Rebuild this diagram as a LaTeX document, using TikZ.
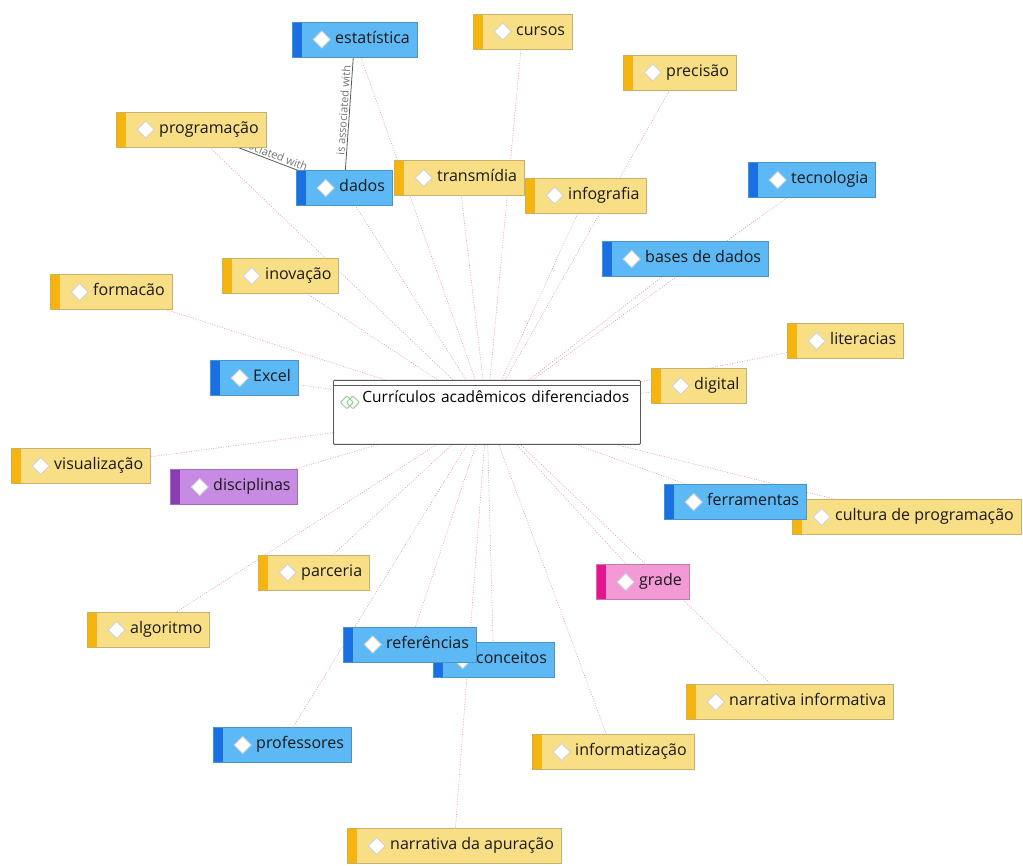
\documentclass[tikz,border=0pt]{standalone}
\usepackage{fontspec}
\setmainfont{Open Sans}
\usetikzlibrary{positioning}
\pgfdeclarelayer{background}
\pgfsetlayers{background,main}

\definecolor{topicyellow}{HTML}{F8DE84}
\definecolor{stripeorange}{HTML}{F6B40E}
\definecolor{topicblue}{HTML}{5CB9F6}
\definecolor{stripeblue}{HTML}{1A6FE3}
\definecolor{topicpurple}{HTML}{C88BE3}
\definecolor{stripepurple}{HTML}{8B3EB0}
\definecolor{topicpink}{HTML}{F39AD6}
\definecolor{stripepink}{HTML}{E3168E}
\definecolor{linkred}{HTML}{E99AA4}

\begin{document}
\begin{tikzpicture}[x=1pt,y=-1pt,
    every topic/.style={rectangle,anchor=west,minimum height=35pt,inner ysep=0pt,
      inner xsep=7pt,text height=11pt,text depth=3.5pt,text=black!90,
      font=\fontsize{16}{18}\selectfont,execute at begin node=\hspace*{36pt}},
    topic/.style 2 args={every topic,fill=#1,draw=#1!80!black,line width=0.4pt,
      path picture={
        \fill[#2] (path picture bounding box.north west) rectangle
          ([xshift=10pt]path picture bounding box.south west);
        \filldraw[fill=white,draw=gray!35,line width=0.8pt]
          ([xshift=21pt]path picture bounding box.west) -- ++(8.5pt,-8.5pt)
          -- ++(8.5pt,8.5pt) -- ++(-8.5pt,8.5pt) -- cycle;}},
    yellow/.style={topic={topicyellow}{stripeorange}},
    blue/.style={topic={topicblue}{stripeblue}},
    purple/.style={topic={topicpurple}{stripepurple}},
    pink/.style={topic={topicpink}{stripepink}},
    central/.style={rectangle,fill=white,draw=gray!70!black,line width=0.8pt,rounded corners=1pt,
      anchor=north west,text width=285pt,inner xsep=11pt,inner ysep=6pt,align=left,
      text height=16pt,text depth=36pt,font=\fontsize{15.5}{17}\selectfont,
      path picture={
        \draw[gray!70!black,line width=0.8pt] ([yshift=-5pt]path picture bounding box.north west)
          -- ([yshift=-5pt]path picture bounding box.north east);
        \foreach \dx in {7,13}
          \draw[green!35!gray!60,line width=1pt]
            ([xshift=\dx pt,yshift=-22pt]path picture bounding box.north west) -- ++(6.5pt,-6.5pt)
            -- ++(6.5pt,6.5pt) -- ++(-6.5pt,6.5pt) -- cycle;}},
    link/.style={draw=linkred,line width=0.6pt,dash pattern=on 1pt off 1.5pt},
    assoc/.style={draw=black!65,line width=0.8pt},
    assoc label/.style={sloped,above,inner sep=1.5pt,text=black!55,font=\fontsize{11}{13}\selectfont}]

  \useasboundingbox (0,0) rectangle (1023,866);

  % topics
  \node[blue] (stat) at (292,39.5) {estatística};
  \node[yellow] (cursos) at (473,31.5) {cursos};
  \node[yellow] (precisao) at (623,72.5) {precisão};
  \node[yellow] (prog) at (116,129.5) {programação};
  \node[blue] (dados) at (296,188) {dados};
  \node[yellow] (transm) at (394,178) {transmídia};
  \node[yellow] (info) at (525,195.5) {infografia};
  \node[blue] (tecno) at (748,180) {tecnologia};
  \node[blue] (bases) at (602,259) {bases de dados};
  \node[yellow] (inov) at (222,276) {inovação};
  \node[yellow] (formac) at (50,292) {formacão};
  \node[yellow] (liter) at (787,341) {literacias};
  \node[blue] (excel) at (210,378) {Excel};
  \node[yellow] (digital) at (651,386) {digital};
  \node[central] (curric) at (333,380) {\hspace*{18pt}Currículos acadêmicos diferenciados};
  \node[yellow] (visual) at (11,466) {visualização};
  \node[purple] (discip) at (170,487) {disciplinas};
  \node[yellow] (cultura) at (792,517) {cultura de programação};
  \node[blue] (ferram) at (664,502) {ferramentas};
  \node[yellow] (parc) at (258,572.5) {parceria};
  \node[pink] (grade) at (596,582) {grade};
  \node[yellow] (algo) at (87,630) {algoritmo};
  \node[blue] (conc) at (433,660) {conceitos};
  \node[blue] (refer) at (343,644.5) {referências};
  \node[yellow] (narinf) at (686,702) {narrativa informativa};
  \node[blue] (prof) at (213,745) {professores};
  \node[yellow] (informat) at (532,752) {informatização};
  \node[yellow] (narap) at (347,846) {narrativa da apuração};

  \begin{pgfonlayer}{background}
    \foreach \t in {stat,cursos,precisao,prog,dados,transm,info,tecno,bases,inov,formac,
        liter,excel,digital,visual,discip,cultura,ferram,parc,grade,algo,conc,refer,
        narinf,prof,informat,narap}
      \path[link] (curric.center) edge (\t.center);
    \path[assoc] (dados.center) edge node[assoc label,pos=0.52] {is associated with} (stat.center)
      (prog.center) edge node[assoc label,pos=0.47] {is associated with} (dados.center);
  \end{pgfonlayer}
\end{tikzpicture}
\end{document}
